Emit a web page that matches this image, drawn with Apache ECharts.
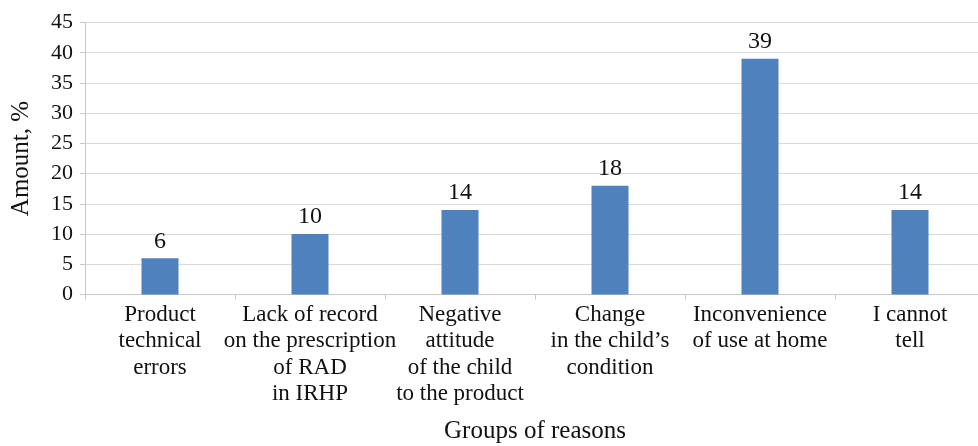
<!DOCTYPE html>
<html>
<head>
<meta charset="utf-8">
<script src="https://cdn.jsdelivr.net/npm/echarts@6/dist/echarts.min.js"></script>
<style>
  html, body { margin: 0; padding: 0; background: #fff; }
  #chart { width: 978px; height: 446px; }
</style>
</head>
<body>
<div id="chart"></div>
<script>
// Reasons for discontinuing use, share of respondents (%)
const categories = [
  'Product\ntechnical\nerrors',
  'Lack of record\non the prescription\nof RAD\nin IRHP',
  'Negative\nattitude\nof the child\nto the product',
  'Change\nin the child\u2019s\ncondition',
  'Inconvenience\nof use at home',
  'I cannot\ntell'
];
const amounts = [6, 10, 14, 18, 39, 14];
const yTicks = { min: 0, max: 45, interval: 5 };

const FONT = '"Liberation Serif", "DejaVu Serif", serif';
const AXIS_GRAY = '#c8c8c8';

const chart = echarts.init(document.getElementById('chart'), null, { renderer: 'canvas' });
chart.setOption({
  animation: false,
  textStyle: { fontFamily: FONT, color: '#111' },
  grid: {
    left: 85, top: 22.5, width: 900, height: 272,
    containLabel: false,
    outerBoundsMode: 'none'
  },
  xAxis: {
    type: 'category',
    data: categories,
    name: 'Groups of reasons',
    nameLocation: 'middle',
    nameGap: 124,
    nameTextStyle: { fontFamily: FONT, fontSize: 25, color: '#111' },
    axisLine: { lineStyle: { color: AXIS_GRAY, width: 1 } },
    axisTick: { show: true, alignWithLabel: false, length: 5, lineStyle: { color: AXIS_GRAY } },
    axisLabel: { fontFamily: FONT, fontSize: 23, lineHeight: 26.5, color: '#111', margin: 7, interval: 0 },
    splitLine: { show: false }
  },
  yAxis: {
    type: 'value',
    min: yTicks.min,
    max: yTicks.max,
    interval: yTicks.interval,
    name: 'Amount, %',
    nameLocation: 'middle',
    nameGap: 51,
    nameRotate: 90,
    nameTextStyle: { fontFamily: FONT, fontSize: 25, color: '#111' },
    axisLine: { show: true, lineStyle: { color: AXIS_GRAY, width: 1 } },
    axisTick: { show: true, length: 5, lineStyle: { color: AXIS_GRAY } },
    axisLabel: { fontFamily: FONT, fontSize: 22, color: '#111', margin: 12 },
    splitLine: { show: true, lineStyle: { color: '#d9d9d9', width: 1 } }
  },
  series: [{
    type: 'bar',
    data: amounts,
    barWidth: 37,
    itemStyle: { color: '#4f81bd' },
    label: {
      show: true,
      position: 'top',
      distance: 5,
      fontFamily: FONT,
      fontSize: 24,
      color: '#111'
    }
  }]
});
</script>
</body>
</html>
